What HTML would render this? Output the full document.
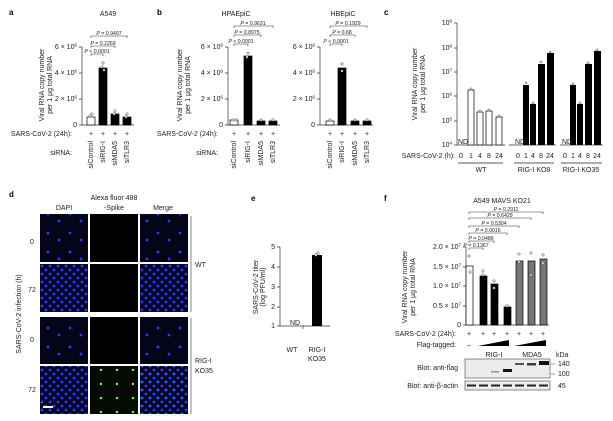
<!DOCTYPE html>
<html><head><meta charset="utf-8"><style>
html,body{margin:0;padding:0;background:#fff;}
svg{display:block;font-family:"Liberation Sans",sans-serif;}
text{font-size:7px;fill:#222;}
.b{font-weight:bold;font-size:8px;fill:#000;}
.p{font-size:5.2px;}
.d{fill:#fff;stroke:#333;stroke-width:0.5;}
</style></head><body>
<svg width="613" height="421" viewBox="0 0 613 421" xmlns="http://www.w3.org/2000/svg">
<defs>
<pattern id="dapi1" width="22" height="19" patternUnits="userSpaceOnUse"><rect width="22" height="19" fill="#05051a"/><circle cx="4" cy="5" r="1.4" fill="#2a3cff"/><circle cx="15" cy="12" r="1.4" fill="#2a3cff"/></pattern>
<pattern id="dapi2" width="8" height="8" patternUnits="userSpaceOnUse"><rect width="8" height="8" fill="#05052a"/><circle cx="2" cy="2" r="1.4" fill="#2a3cff"/><circle cx="6" cy="6" r="1.4" fill="#2a3cff"/></pattern>
<pattern id="merge2" width="8" height="8" patternUnits="userSpaceOnUse"><rect width="8" height="8" fill="#05052a"/><circle cx="2" cy="2" r="1.4" fill="#2a3cff"/><circle cx="6" cy="6" r="1.4" fill="#2a6cff"/></pattern>
<pattern id="green" width="16" height="14" patternUnits="userSpaceOnUse"><rect width="16" height="14" fill="#060a04"/><circle cx="5" cy="6" r="1.2" fill="#6f6"/></pattern>
</defs>

<!-- Panel a -->
<text class="b" x="9" y="15">a</text>
<text x="108" y="16" text-anchor="middle">A549</text>
<g transform="translate(44,85) rotate(-90)"><text text-anchor="middle" y="0">Viral RNA copy number</text><text text-anchor="middle" y="8">per 1 µg total RNA</text></g>
<g stroke="#333" stroke-width="0.7" fill="none"><path d="M82 47V125H134M79 47H82M79 73H82M79 99H82M79 125H82"/></g>
<text x="77" y="49" text-anchor="end">6 × 10<tspan font-size="4.5" dy="-2.5">6</tspan></text>
<text x="77" y="75" text-anchor="end">4 × 10<tspan font-size="4.5" dy="-2.5">6</tspan></text>
<text x="77" y="101" text-anchor="end">2 × 10<tspan font-size="4.5" dy="-2.5">6</tspan></text>
<text x="77" y="127" text-anchor="end">0</text>
<g stroke="#000" stroke-width="0.7"><rect x="87" y="117" width="8" height="8" fill="#fff"/><rect x="99" y="68" width="8" height="57" fill="#000"/><rect x="111" y="114" width="8" height="11" fill="#000"/><rect x="123" y="117" width="8" height="8" fill="#000"/></g>
<g class="d"><circle cx="90" cy="116" r="1.2"/><circle cx="92" cy="114" r="1.2"/><circle cx="103" cy="63" r="1.2"/><circle cx="102" cy="67" r="1.2"/><circle cx="104" cy="70" r="1.2"/><circle cx="115" cy="111" r="1.2"/><circle cx="114" cy="114" r="1.2"/><circle cx="127" cy="114" r="1.2"/><circle cx="126" cy="117" r="1.2"/></g>
<g stroke="#333" stroke-width="0.6" fill="none"><path d="M91 56V54H103V56M91 48V46H115V48M91 38V36H127V38"/></g>
<text class="p" x="97" y="53" text-anchor="middle"><tspan font-style="italic">P</tspan> &lt; 0.0001</text>
<text class="p" x="103" y="45" text-anchor="middle"><tspan font-style="italic">P</tspan> = 0.2269</text>
<text class="p" x="109" y="35" text-anchor="middle"><tspan font-style="italic">P</tspan> = 0.9497</text>
<text x="72" y="136" text-anchor="end">SARS-CoV-2 (24h):</text>
<text x="72" y="155" text-anchor="end">siRNA:</text>
<g text-anchor="middle"><text x="91" y="136">+</text><text x="103" y="136">+</text><text x="115" y="136">+</text><text x="127" y="136">+</text></g>
<g text-anchor="end"><text transform="translate(93,141) rotate(-90)">siControl</text><text transform="translate(105,141) rotate(-90)">siRIG-I</text><text transform="translate(117,141) rotate(-90)">siMDA5</text><text transform="translate(129,141) rotate(-90)">siTLR3</text></g>

<!-- Panel b -->
<text class="b" x="157" y="15">b</text>
<text x="236" y="16" text-anchor="middle">HPAEpiC</text>
<g transform="translate(182,85) rotate(-90)"><text text-anchor="middle" y="0">Viral RNA copy number</text><text text-anchor="middle" y="8">per 1 µg total RNA</text></g>
<g stroke="#333" stroke-width="0.7" fill="none"><path d="M228 47V125H280M225 47H228M225 73H228M225 99H228M225 125H228"/></g>
<text x="223" y="49" text-anchor="end">6 × 10<tspan font-size="4.5" dy="-2.5">6</tspan></text>
<text x="223" y="75" text-anchor="end">4 × 10<tspan font-size="4.5" dy="-2.5">6</tspan></text>
<text x="223" y="101" text-anchor="end">2 × 10<tspan font-size="4.5" dy="-2.5">6</tspan></text>
<text x="223" y="127" text-anchor="end">0</text>
<g stroke="#000" stroke-width="0.7"><rect x="230" y="120" width="8" height="5" fill="#fff"/><rect x="244" y="56" width="8" height="69" fill="#000"/><rect x="257" y="121" width="8" height="4" fill="#000"/><rect x="269" y="121" width="8" height="4" fill="#000"/></g>
<g class="d"><circle cx="233" cy="120" r="1.2"/><circle cx="236" cy="120" r="1.2"/><circle cx="248" cy="53" r="1.2"/><circle cx="247" cy="57" r="1.2"/><circle cx="261" cy="120" r="1.2"/><circle cx="273" cy="120" r="1.2"/></g>
<g stroke="#333" stroke-width="0.6" fill="none"><path d="M234 46V44H248V46M234 37V35H261V37M234 28V26H273V28"/></g>
<text class="p" x="241" y="43" text-anchor="middle"><tspan font-style="italic">P</tspan> &lt; 0.0001</text>
<text class="p" x="247" y="34" text-anchor="middle"><tspan font-style="italic">P</tspan> = 0.8975</text>
<text class="p" x="253" y="25" text-anchor="middle"><tspan font-style="italic">P</tspan> = 0.9631</text>
<text x="218" y="136" text-anchor="end">SARS-CoV-2 (24h):</text>
<text x="218" y="155" text-anchor="end">siRNA:</text>
<g text-anchor="middle"><text x="234" y="136">+</text><text x="248" y="136">+</text><text x="261" y="136">+</text><text x="273" y="136">+</text></g>
<g text-anchor="end"><text transform="translate(236,141) rotate(-90)">siControl</text><text transform="translate(250,141) rotate(-90)">siRIG-I</text><text transform="translate(263,141) rotate(-90)">siMDA5</text><text transform="translate(275,141) rotate(-90)">siTLR3</text></g>

<!-- HBEpiC -->
<text x="343" y="16" text-anchor="middle">HBEpiC</text>
<g stroke="#333" stroke-width="0.7" fill="none"><path d="M320 47V125H373M317 47H320M317 73H320M317 99H320M317 125H320"/></g>
<text x="315" y="49" text-anchor="end">6 × 10<tspan font-size="4.5" dy="-2.5">6</tspan></text>
<text x="315" y="75" text-anchor="end">4 × 10<tspan font-size="4.5" dy="-2.5">6</tspan></text>
<text x="315" y="101" text-anchor="end">2 × 10<tspan font-size="4.5" dy="-2.5">6</tspan></text>
<text x="315" y="127" text-anchor="end">0</text>
<g stroke="#000" stroke-width="0.7"><rect x="326" y="121" width="8" height="4" fill="#fff"/><rect x="338" y="68" width="8" height="57" fill="#000"/><rect x="351" y="121" width="8" height="4" fill="#000"/><rect x="363" y="121" width="8" height="4" fill="#000"/></g>
<g class="d"><circle cx="330" cy="120" r="1.2"/><circle cx="342" cy="64" r="1.2"/><circle cx="342" cy="71" r="1.2"/><circle cx="355" cy="120" r="1.2"/><circle cx="367" cy="120" r="1.2"/></g>
<g stroke="#333" stroke-width="0.6" fill="none"><path d="M330 46V44H342V46M330 37V35H355V37M330 28V26H367V28"/></g>
<text class="p" x="336" y="43" text-anchor="middle"><tspan font-style="italic">P</tspan> &lt; 0.0001</text>
<text class="p" x="342" y="34" text-anchor="middle"><tspan font-style="italic">P</tspan> = 0.68</text>
<text class="p" x="348" y="25" text-anchor="middle"><tspan font-style="italic">P</tspan> = 0.1929</text>
<g text-anchor="middle"><text x="330" y="136">+</text><text x="342" y="136">+</text><text x="355" y="136">+</text><text x="367" y="136">+</text></g>
<g text-anchor="end"><text transform="translate(332,141) rotate(-90)">siControl</text><text transform="translate(344,141) rotate(-90)">siRIG-I</text><text transform="translate(357,141) rotate(-90)">siMDA5</text><text transform="translate(369,141) rotate(-90)">siTLR3</text></g>

<!-- Panel c -->
<text class="b" x="384" y="15">c</text>
<g transform="translate(417,84) rotate(-90)"><text text-anchor="middle" y="0">Viral RNA copy number</text><text text-anchor="middle" y="8">per 1 µg total RNA</text></g>
<g stroke="#333" stroke-width="0.7" fill="none"><path d="M457 23V145H505M509 145H556M560 145H603M454 23H457M454 48H457M454 72H457M454 96H457M454 121H457M454 145H457"/></g>
<g text-anchor="end"><text x="452" y="25">10<tspan font-size="4.5" dy="-2.5">9</tspan></text><text x="452" y="50">10<tspan font-size="4.5" dy="-2.5">8</tspan></text><text x="452" y="74">10<tspan font-size="4.5" dy="-2.5">7</tspan></text><text x="452" y="98">10<tspan font-size="4.5" dy="-2.5">6</tspan></text><text x="452" y="123">10<tspan font-size="4.5" dy="-2.5">5</tspan></text><text x="452" y="147">10<tspan font-size="4.5" dy="-2.5">4</tspan></text></g>
<g stroke="#000" stroke-width="0.7" fill="#fff"><rect x="468" y="90" width="6" height="55"/><rect x="477" y="112" width="6" height="33"/><rect x="486" y="111" width="6" height="34"/><rect x="496" y="117" width="6" height="28"/></g>
<g fill="#000"><rect x="523" y="85" width="6" height="60"/><rect x="530" y="104" width="6" height="41"/><rect x="538" y="64" width="7" height="81"/><rect x="547" y="53" width="7" height="92"/>
<rect x="570" y="85" width="6" height="60"/><rect x="577" y="104" width="6" height="41"/><rect x="585" y="64" width="7" height="81"/><rect x="594" y="51" width="7" height="94"/></g>
<g class="d"><circle cx="471" cy="89" r="1.1"/><circle cx="480" cy="111" r="1.1"/><circle cx="489" cy="110" r="1.1"/><circle cx="499" cy="116" r="1.1"/><circle cx="526" cy="83" r="1.1"/><circle cx="533" cy="103" r="1.1"/><circle cx="541" cy="62" r="1.1"/><circle cx="550" cy="52" r="1.1"/><circle cx="573" cy="84" r="1.1"/><circle cx="580" cy="103" r="1.1"/><circle cx="588" cy="63" r="1.1"/><circle cx="597" cy="50" r="1.1"/></g>
<g><text x="458" y="144" font-size="3.5">ND</text><text x="515" y="144" font-size="3.5">ND</text><text x="562" y="144" font-size="3.5">ND</text></g>
<text x="455" y="158" text-anchor="end">SARS-CoV-2 (h):</text>
<g text-anchor="middle"><text x="461" y="158">0</text><text x="471" y="158">1</text><text x="480" y="158">4</text><text x="489" y="158">8</text><text x="499" y="158">24</text>
<text x="518" y="158">0</text><text x="526" y="158">1</text><text x="533" y="158">4</text><text x="541" y="158">8</text><text x="550" y="158">24</text>
<text x="565" y="158">0</text><text x="573" y="158">1</text><text x="580" y="158">4</text><text x="588" y="158">8</text><text x="597" y="158">24</text></g>
<g stroke="#222" stroke-width="0.7"><path d="M458 163H503M514 163H554M561 163H602"/></g>
<g text-anchor="middle"><text x="481" y="172">WT</text><text x="534" y="172">RIG-I KO8</text><text x="581" y="172">RIG-I KO35</text></g>

<!-- Panel d -->
<text class="b" x="9" y="197">d</text>
<text x="64" y="210" text-anchor="middle">DAPI</text>
<text x="114" y="200" text-anchor="middle">Alexa fluor 488</text>
<text x="114" y="210" text-anchor="middle">-Spike</text>
<text x="163" y="210" text-anchor="middle">Merge</text>
<rect x="40" y="214" width="48" height="48" fill="url(#dapi1)"/>
<rect x="90" y="214" width="48" height="48" fill="#000"/>
<rect x="140" y="214" width="48" height="48" fill="url(#dapi1)"/>
<rect x="40" y="264" width="48" height="48" fill="url(#dapi2)"/>
<rect x="90" y="264" width="48" height="48" fill="#000"/>
<rect x="140" y="264" width="48" height="48" fill="url(#dapi2)"/>
<rect x="40" y="317" width="48" height="47" fill="url(#dapi1)"/>
<rect x="90" y="317" width="48" height="47" fill="#000"/>
<rect x="140" y="317" width="48" height="47" fill="url(#dapi1)"/>
<rect x="40" y="366" width="48" height="48" fill="url(#dapi2)"/>
<rect x="90" y="366" width="48" height="48" fill="url(#green)"/>
<rect x="140" y="366" width="48" height="48" fill="url(#merge2)"/>
<rect x="43" y="406" width="10" height="2" fill="#fff"/>
<g stroke="#555" stroke-width="0.7"><path d="M191 216V312M191 318V414"/></g>
<text x="195" y="267">WT</text>
<text x="195" y="363">RIG-I</text><text x="195" y="373">KO35</text>
<g text-anchor="middle"><text x="32" y="244">0</text><text x="32" y="292">72</text><text x="32" y="342">0</text><text x="32" y="392">72</text></g>
<text transform="translate(21,314) rotate(-90)" text-anchor="middle">SARS-CoV-2 infection (h)</text>

<!-- Panel e -->
<text class="b" x="251" y="201">e</text>
<g transform="translate(258,287) rotate(-90)"><text text-anchor="middle" y="0" font-size="5.5">SARS-CoV-2 titer</text><text text-anchor="middle" y="7" font-size="5.5">(log PFU/ml)</text></g>
<g stroke="#333" stroke-width="0.7" fill="none"><path d="M280 247V326H330M277 247H280M277 267H280M277 287H280M277 307H280M277 326H280M303 326V329"/></g>
<g text-anchor="end"><text x="275" y="249">5</text><text x="275" y="269">4</text><text x="275" y="289">3</text><text x="275" y="309">2</text><text x="275" y="328">1</text></g>
<rect x="312" y="255" width="10" height="71" fill="#000"/>
<g class="d"><circle cx="316" cy="255" r="1.3"/><circle cx="318" cy="253" r="1.3"/></g>
<text x="290" y="325" font-size="3.5">ND</text>
<text x="292" y="352" text-anchor="middle">WT</text>
<text x="317" y="352" text-anchor="middle">RIG-I</text><text x="317" y="361" text-anchor="middle">KO35</text>

<!-- Panel f -->
<text class="b" x="384" y="201">f</text>
<text x="502" y="203" text-anchor="middle">A549 MAVS KO21</text>
<g transform="translate(407,287) rotate(-90)"><text text-anchor="middle" y="0">Viral RNA copy number</text><text text-anchor="middle" y="8">per 1 µg total RNA</text></g>
<g stroke="#333" stroke-width="0.7" fill="none"><path d="M466 247V325H549M463 247H466M463 267H466M463 286H466M463 306H466M463 325H466"/></g>
<g text-anchor="end"><text x="461" y="249">2.0 × 10<tspan font-size="4.5" dy="-2.5">7</tspan></text><text x="461" y="269">1.5 × 10<tspan font-size="4.5" dy="-2.5">7</tspan></text><text x="461" y="288">1.0 × 10<tspan font-size="4.5" dy="-2.5">7</tspan></text><text x="461" y="308">0.5 × 10<tspan font-size="4.5" dy="-2.5">7</tspan></text><text x="461" y="327">0</text></g>
<g stroke="#000" stroke-width="0.7"><rect x="466" y="266" width="7" height="59" fill="#fff"/><rect x="480" y="276" width="7" height="49" fill="#000"/><rect x="491" y="284" width="7" height="41" fill="#000"/><rect x="504" y="307" width="7" height="18" fill="#000"/><rect x="516" y="261" width="7" height="64" fill="#777"/><rect x="528" y="261" width="7" height="64" fill="#777"/><rect x="540" y="259" width="7" height="66" fill="#777"/></g>
<g class="d"><circle cx="469" cy="256" r="1.2"/><circle cx="470" cy="272" r="1.2"/><circle cx="483" cy="271" r="1.2"/><circle cx="483" cy="275" r="1.2"/><circle cx="494" cy="281" r="1.2"/><circle cx="494" cy="288" r="1.2"/><circle cx="507" cy="306" r="1.2"/><circle cx="519" cy="254" r="1.2"/><circle cx="519" cy="262" r="1.2"/><circle cx="531" cy="253" r="1.2"/><circle cx="531" cy="275" r="1.2"/><circle cx="543" cy="255" r="1.2"/><circle cx="543" cy="263" r="1.2"/></g>
<g stroke="#333" stroke-width="0.6" fill="none"><path d="M469 250V248H483V250M469 243V241H494V243M469 235V233H507V235M469 228V226H519V228M469 220V218H531V220M469 214V212H543V214"/></g>
<g text-anchor="middle"><text class="p" x="476" y="247"><tspan font-style="italic">P</tspan> = 0.1367</text><text class="p" x="481" y="240"><tspan font-style="italic">P</tspan> = 0.0486</text><text class="p" x="488" y="232"><tspan font-style="italic">P</tspan> = 0.0016</text><text class="p" x="494" y="225"><tspan font-style="italic">P</tspan> = 0.5304</text><text class="p" x="500" y="217"><tspan font-style="italic">P</tspan> = 0.6429</text><text class="p" x="506" y="211"><tspan font-style="italic">P</tspan> = 0.2911</text></g>
<text x="456" y="336" text-anchor="end">SARS-CoV-2 (24h):</text>
<g text-anchor="middle"><text x="469" y="336">+</text><text x="483" y="336">+</text><text x="494" y="336">+</text><text x="507" y="336">+</text><text x="519" y="336">+</text><text x="531" y="336">+</text><text x="543" y="336">+</text></g>
<text x="456" y="347" text-anchor="end">Flag-tagged:</text>
<text x="469" y="347" text-anchor="middle">–</text>
<path d="M478 346L509 340V346Z" fill="#000"/>
<path d="M514 346L546 340V346Z" fill="#000"/>
<text x="494" y="357" text-anchor="middle">RIG-I</text>
<text x="532" y="357" text-anchor="middle">MDA5</text>
<text x="556" y="357">kDa</text>
<rect x="465" y="359" width="85" height="19" fill="#ececec" stroke="#444" stroke-width="0.6"/>
<g fill="#111"><rect x="491" y="371" width="8" height="1.5" opacity="0.4"/><rect x="503" y="369" width="9" height="3"/><rect x="515" y="363" width="9" height="2" opacity="0.7"/><rect x="527" y="363" width="9" height="2.5" opacity="0.8"/><rect x="539" y="361" width="10" height="4"/></g>
<text x="558" y="366">140</text><text x="558" y="376">100</text>
<path d="M551 364H555M551 374H555" stroke="#333" stroke-width="0.6"/>
<rect x="465" y="381" width="85" height="9" fill="#ececec" stroke="#444" stroke-width="0.6"/>
<g fill="#222"><rect x="467" y="384.5" width="9" height="2"/><rect x="479" y="384.5" width="9" height="2"/><rect x="491" y="384.5" width="9" height="2"/><rect x="503" y="384.5" width="9" height="2"/><rect x="515" y="384.5" width="9" height="2"/><rect x="527" y="384.5" width="9" height="2"/><rect x="539" y="384.5" width="9" height="2"/></g>
<text x="558" y="388">45</text>
<text x="458" y="370" text-anchor="end">Blot: anti-flag</text>
<text x="458" y="388" text-anchor="end">Blot: anti-β-actin</text>
</svg>
</body></html>
